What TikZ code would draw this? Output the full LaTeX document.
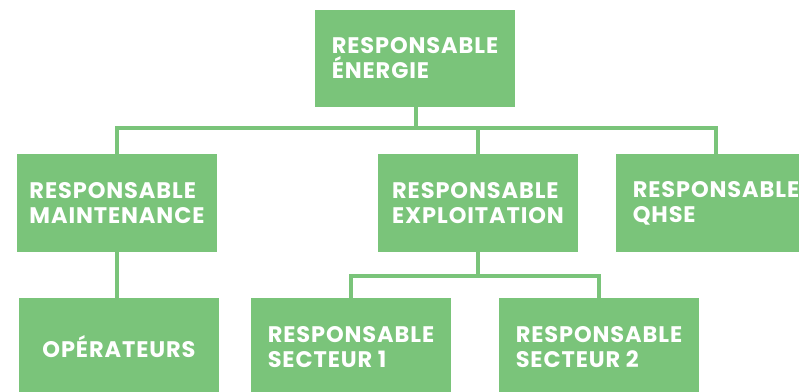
\documentclass[tikz,border=0pt]{standalone}
\usepackage{fontspec}
\setsansfont{Poppins}[LetterSpace=4]
\usepackage{tikz}
\usetikzlibrary{calc,positioning}
\usepackage{xcolor}
\definecolor{orggreen}{RGB}{122,196,122}

\begin{document}
\begin{tikzpicture}[x=1pt, y=-1pt,
  box/.style={fill=orggreen, minimum width=200pt, minimum height=98pt, inner sep=0pt,
    text=white, align=left, font=\sffamily\bfseries\fontsize{22.5}{25}\selectfont},
  link/.style={draw=orggreen, line width=4pt}]
  % Frame (picture size in pixels)
  \clip (0,0) rectangle (799,391);

  % Boxes
  \node[box, minimum height=97pt] (energie) at (415,58.5) {RESPONSABLE\\ÉNERGIE};
  \node[box] (maint)   at (117,203) {RESPONSABLE\\MAINTENANCE};
  \node[box] (exploit) at (478,203) {RESPONSABLE\\EXPLOITATION};
  \node[box] (qhse)    at (716,203) {RESPONSABLE\\QHSE};
  \node[box] (oper)    at (119,347) {OPÉRATEURS};
  \node[box] (sect1)   at (351,347) {RESPONSABLE\\SECTEUR 1};
  \node[box] (sect2)   at (599,347) {RESPONSABLE\\SECTEUR 2};

  % Bus lines
  \coordinate (bus)  at (416,128);
  \coordinate (bus2) at (478,276);

  % Connectors
  \draw[link] (energie.south -| bus) -- (bus);
  \draw[link] (maint.north) |- (bus) -| (qhse.north);
  \draw[link] (exploit.north) -- (exploit.north |- bus);
  \draw[link] (exploit.south) -- (bus2);
  \draw[link] (sect1.north) |- (bus2) -| (sect2.north);
  \draw[link] (maint.south) -- (maint.south |- oper.north);
\end{tikzpicture}
\end{document}
